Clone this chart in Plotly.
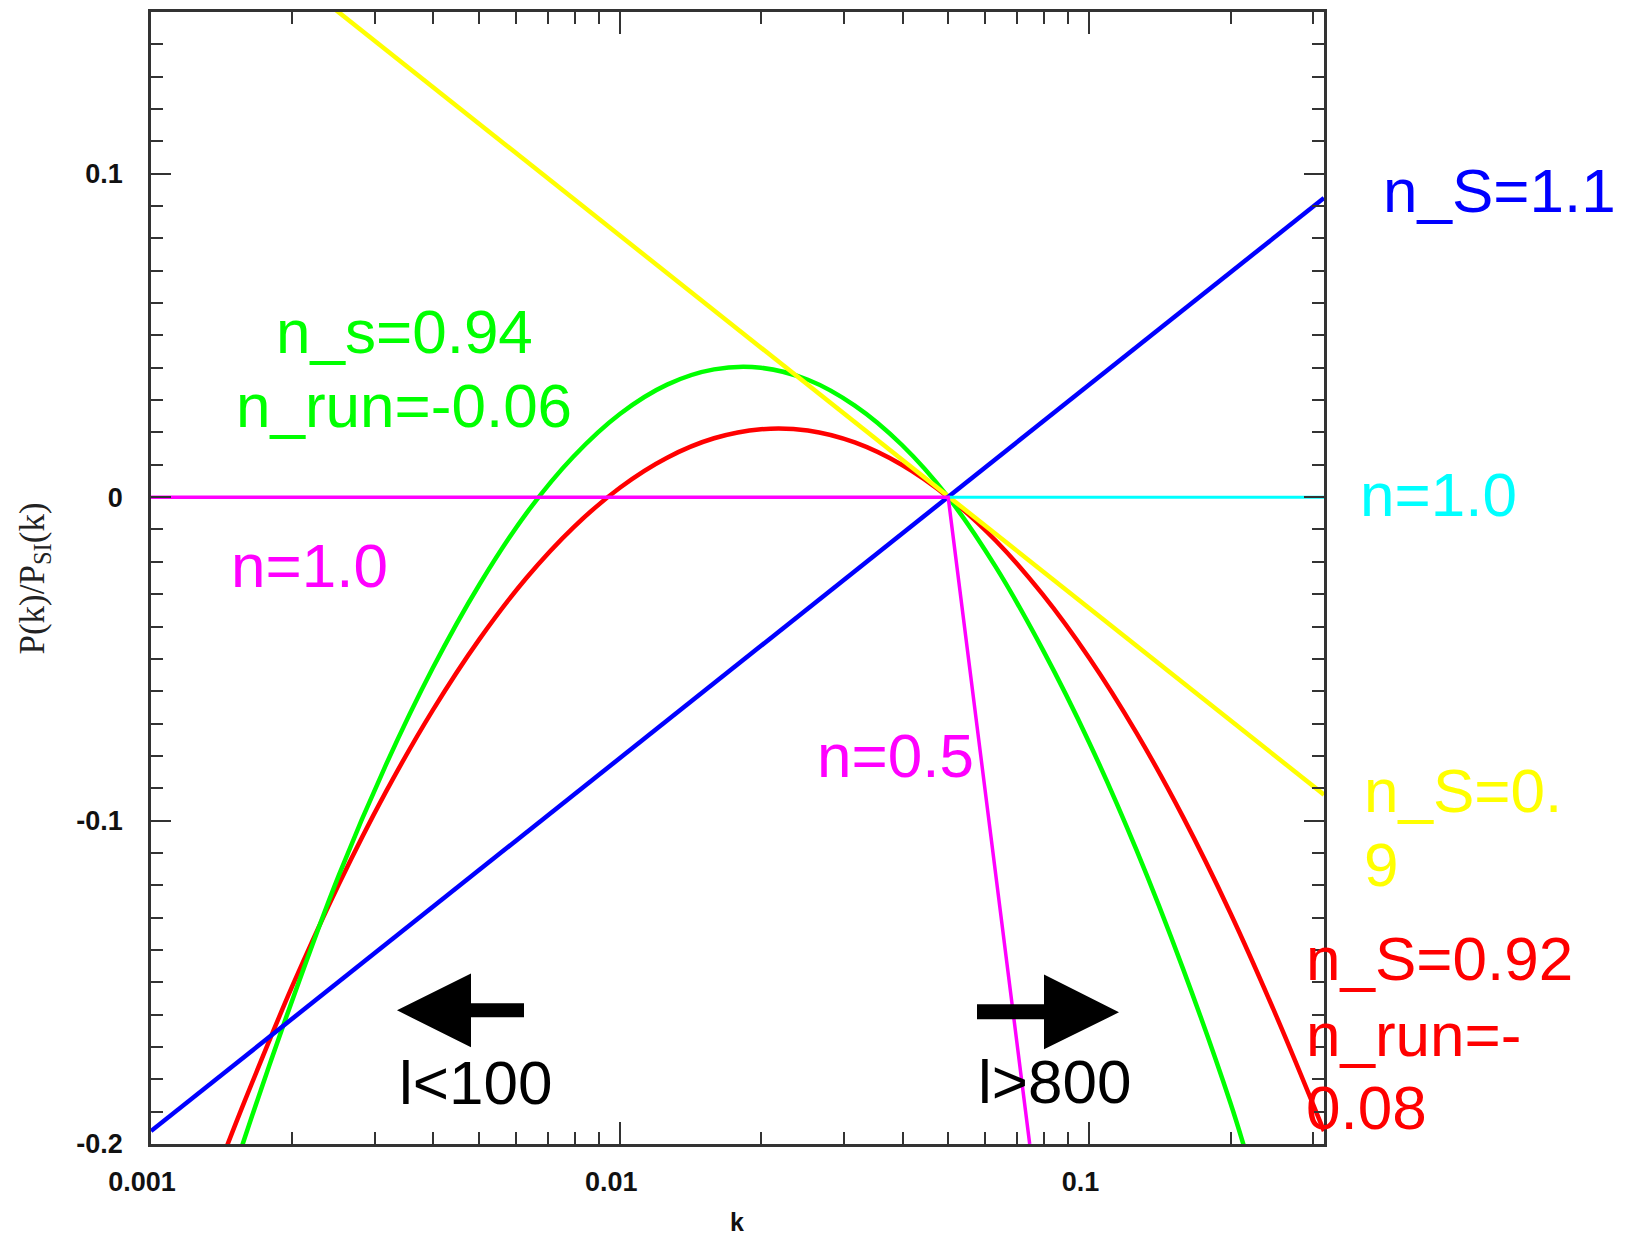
import plotly.graph_objects as go

# ---------------- data ----------------
# green: n_s=0.94, n_run=-0.06
k_green = [0.001514, 0.001585, 0.001995, 0.002512, 0.003162, 0.003981, 0.005012, 0.00631,
           0.007943, 0.01, 0.01259, 0.01585, 0.01995, 0.02512, 0.03162, 0.03981, 0.05,
           0.0631, 0.07943, 0.1, 0.1259, 0.1585, 0.1995, 0.2138]
y_green = [-0.207, -0.198, -0.156, -0.117, -0.083, -0.053, -0.027, -0.005,
           0.0125, 0.0258, 0.0348, 0.0395, 0.0400, 0.0363, 0.0283, 0.0162, 0.0,
           -0.0215, -0.047, -0.076, -0.109, -0.146, -0.187, -0.201]

# red: n_S=0.92, n_run=-0.08
k_red = [0.001413, 0.001585, 0.001995, 0.002512, 0.003162, 0.003981, 0.005012, 0.00631,
         0.007943, 0.01, 0.01259, 0.01585, 0.01995, 0.02512, 0.03162, 0.03981, 0.05,
         0.0631, 0.07943, 0.1, 0.1259, 0.1585, 0.1995, 0.2512, 0.3162]
y_red = [-0.205, -0.1866, -0.1516, -0.1198, -0.0913, -0.0660, -0.0439, -0.0250,
         -0.0094, 0.0030, 0.0122, 0.0182, 0.0210, 0.0206, 0.0169, 0.0100, 0.0,
         -0.0134, -0.0300, -0.0498, -0.0728, -0.0990, -0.1284, -0.1610, -0.1960]

# blue: n_S=1.1
k_blue = [0.001, 0.3162]
y_blue = [-0.196, 0.0925]

# yellow: n_S=0.9
k_yellow = [0.001, 0.3162]
y_yellow = [0.196, -0.092]

# magenta: n=1.0 below pivot, n=0.5 above
k_magenta = [0.001, 0.05, 0.0746]
y_magenta = [0.0, 0.0, -0.2]

# cyan: n=1.0 above pivot
k_cyan = [0.05, 0.3162]
y_cyan = [0.0, 0.0]

x_tickvals = [0.001, 0.01, 0.1]
x_ticktext = ["0.001", "0.01", "0.1"]
y_tickvals = [-0.2, -0.1, 0.0, 0.1]
y_ticktext = ["-0.2", "-0.1", "0", "0.1"]

# ---------------- layout geometry ----------------
W, H = 1629, 1239
L, R, T, B = 151, 1324, 9, 1144


def px(X):
    return (X - L) / (R - L)


def py(Y):
    return (B - Y) / (B - T)


fig = go.Figure()

for kx, yy, col, w in [
    (k_red, y_red, "#ff0000", 4.5),
    (k_green, y_green, "#00ff00", 4.5),
    (k_yellow, y_yellow, "#ffff00", 4.5),
    (k_blue, y_blue, "#0000ff", 4.5),
    (k_cyan, y_cyan, "#00ffff", 3),
    (k_magenta, y_magenta, "#ff00ff", 3.5),
]:
    fig.add_trace(go.Scatter(x=kx, y=yy, mode="lines",
                             line=dict(color=col, width=w,
                                       shape="spline" if len(kx) > 3 else "linear"),
                             showlegend=False, hoverinfo="skip"))

tickfont = dict(family="Liberation Sans, Arial, sans-serif", size=27, color="#111", weight="bold")

fig.update_xaxes(type="log", range=[-3, -0.5], tickvals=x_tickvals, ticktext=x_ticktext,
                 ticks="inside", ticklen=22, tickwidth=2, tickcolor="#333",
                 showline=True, linewidth=2.5, linecolor="#333", mirror="allticks",
                 showgrid=False, zeroline=False, tickfont=tickfont,
                 ticklabelstandoff=12, ticklabelshift=-9,
                 minor=dict(ticks="inside", ticklen=12, tickwidth=2, tickcolor="#333",
                            dtick="D1", showgrid=False))
fig.update_yaxes(range=[-0.2, 0.15], tickvals=y_tickvals, ticktext=y_ticktext,
                 ticks="inside", ticklen=20, tickwidth=2, tickcolor="#333",
                 showline=True, linewidth=2.5, linecolor="#333", mirror="allticks",
                 showgrid=False, zeroline=False, tickfont=tickfont, ticklabelstandoff=20,
                 minor=dict(ticks="inside", ticklen=12, tickwidth=2, tickcolor="#333",
                            dtick=0.01, showgrid=False))

big = "Liberation Sans, Arial, sans-serif"
FS = 62
labels = [
    ("n_S=1.1", 1381, 188, "#0000ff", "left"),
    ("n=1.0", 1358, 493, "#00ffff", "left"),
    ("n_S=0.", 1362, 790, "#ffff00", "left"),
    ("9", 1362, 864, "#ffff00", "left"),
    ("n_S=0.92", 1304, 958, "#ff0000", "left"),
    ("n_run=-", 1304, 1034, "#ff0000", "left"),
    ("0.08", 1304, 1107, "#ff0000", "left"),
    ("n_s=0.94", 404, 329, "#00ff00", "center"),
    ("n_run=-0.06", 404, 404, "#00ff00", "center"),
    ("n=1.0", 229, 564, "#ff00ff", "left"),
    ("n=0.5", 815, 754, "#ff00ff", "left"),
    ("l<100", 397, 1082, "#000000", "left"),
    ("l>800", 976, 1081, "#000000", "left"),
]
for txt, X, Y, col, anc in labels:
    fig.add_annotation(x=px(X), y=py(Y), xref="paper", yref="paper",
                       text=txt.replace("<", "&lt;").replace(">", "&gt;"),
                       showarrow=False, xanchor=anc, yanchor="middle",
                       font=dict(family=big, size=FS, color=col))

# axis titles
fig.add_annotation(x=px(737), y=py(1222), xref="paper", yref="paper", text="k",
                   showarrow=False, xanchor="center", yanchor="middle",
                   font=dict(family="Liberation Sans, Arial, sans-serif", size=25,
                             color="#111", weight="bold"))
fig.add_annotation(x=px(34), y=py(577), xref="paper", yref="paper",
                   text="P(k)/P<sub>SI</sub>(k)", textangle=-90,
                   showarrow=False, xanchor="center", yanchor="middle",
                   font=dict(family="Liberation Serif, Times New Roman, serif", size=35,
                             color="#222"))

# direction arrows


def poly(pts):
    return "M " + " L ".join(f"{px(a):.5f},{py(b):.5f}" for a, b in pts) + " Z"


left_arrow = [(397, 1010), (471, 973), (471, 1003), (524, 1003), (524, 1017), (471, 1017), (471, 1047)]
right_arrow = [(1119, 1012), (1044, 974), (1044, 1004), (977, 1004), (977, 1019), (1044, 1019), (1044, 1049)]
for pts in (left_arrow, right_arrow):
    fig.add_shape(type="path", xref="paper", yref="paper", path=poly(pts),
                  fillcolor="black", line=dict(color="black", width=0))

fig.update_layout(width=W, height=H, margin=dict(l=L, r=W - R, t=T, b=H - B, pad=0),
                  plot_bgcolor="white", paper_bgcolor="white")

fig.write_html("out.html", config={"displayModeBar": False},
               post_script="document.body.style.margin='0';document.body.style.overflow='hidden';")
